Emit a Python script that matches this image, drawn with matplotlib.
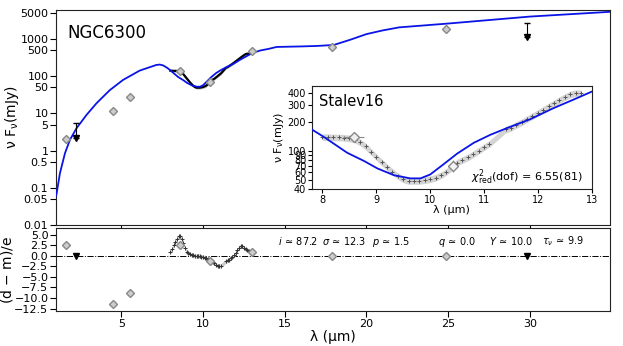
import matplotlib
matplotlib.use('Agg')
import matplotlib.pyplot as plt
import numpy as np

# photometry (wavelength um, nuFnu mJy)
phot_wl = [1.6, 4.5, 5.5, 8.6, 10.43, 13.0, 17.9, 24.9]
phot_fl = [2.0, 11.6, 28.0, 141.0, 71.0, 475.0, 620.0, 1820.0]
phot_err = [0.3, 2.0, 5.0, 15.0, 8.0, 40.0, 50.0, 150.0]
phot_res = [2.5, -11.5, -8.7, 2.6, -1.3, 1.0, 0.0, 0.0]

# upper limits
ul_wl = [2.22, 29.85]
ul_fl = [2.15, 1110.0]
ul_cap = [5.4, 2650.0]
ul_res = [0.0, 0.0]

# spectrum
spec_wl = [8.0, 8.1, 8.2, 8.3, 8.4, 8.5, 8.6, 8.7, 8.8, 8.9, 9.0, 9.1, 9.2, 9.3,
           9.4, 9.5, 9.6, 9.7, 9.8, 9.9, 10.0, 10.1, 10.2, 10.3, 10.4, 10.5,
           10.6, 10.7, 10.8, 10.9, 11.0, 11.1, 11.4, 11.5, 11.6, 11.7, 11.8,
           11.9, 12.0, 12.1, 12.2, 12.3, 12.4, 12.5, 12.6, 12.7, 12.8]
spec_fl = [140, 140, 139, 139, 138, 136, 132, 124, 112, 99, 87, 77, 68, 61,
           55, 51, 49, 49, 49, 50, 51, 53, 56, 61, 67, 76,
           81, 86, 93, 101, 110, 119, 168, 175, 188, 200, 215,
           232, 250, 270, 292, 315, 340, 365, 390, 402, 400]
spec_res = [0.8, 1.6, 2.5, 3.3, 4.0, 4.6, 4.7, 4.1, 3.0, 1.8, 1.0, 0.6, 0.4, 0.2,
            0.1, 0.0, -0.1, 0.0, -0.1, -0.2, -0.3, -0.4, -0.6, -0.8, -1.1, -1.3,
            -1.5, -1.8, -2.1, -2.4, -2.5, -2.3, -1.3, -1.1, -0.9, -0.6, -0.3,
            0.1, 0.7, 1.3, 1.9, 2.3, 2.3, 1.9, 1.6, 1.4, 1.2]
spec_relerr = 0.08
spec_res_err = 0.5

# best fit model
model_wl = [1.0, 1.04, 1.24, 1.55, 1.85, 2.26, 2.87, 3.48, 4.29, 5.1, 6.12, 7.14,
            7.35, 7.55, 7.81, 8.03, 8.46, 8.77, 9.02, 9.33, 9.63, 9.82, 10.0,
            10.25, 10.5, 10.81, 11.12, 11.43, 11.86, 12.29, 12.72, 13.0, 13.5,
            14.0, 14.5, 16.0, 17.0, 18.0, 19.0, 20.0, 21.0, 22.0, 25.0, 30.0, 35.0]
model_fl = [0.06, 0.071, 0.245, 0.85, 1.93, 4.0, 9.1, 18.7, 42, 79, 141, 200,
            205, 195, 167, 140, 96, 79, 66, 56, 52, 52, 57,
            73, 94, 122, 148, 174, 215, 280, 355, 416, 490,
            540, 610, 630, 650, 690, 950, 1350, 1700, 2050, 2600, 4000, 5400]

params = [r'$i\,{\simeq}\,87.2$', r'$\sigma\,{\simeq}\,12.3$', r'$p\,{\simeq}\,1.5$',
          r'$q\,{\simeq}\,0.0$', r'$Y\,{\simeq}\,10.0$', r'$\tau_\nu\,{\simeq}\,9.9$']

spec_fl_a = np.array(spec_fl, dtype=float)
spec_res_a = np.array(spec_res)

fig = plt.figure(figsize=(6.23, 3.46), dpi=100)
ax = fig.add_axes([0.0899, 0.350, 0.889, 0.621])
axr = fig.add_axes([0.0899, 0.101, 0.889, 0.240])
axi = fig.add_axes([0.5003, 0.4529, 0.4494, 0.2994])

diam = dict(marker='D', ms=4.5, mfc='#cccccc', mec='#888888', ls='none')

# --- main SED
ax.fill_between(spec_wl, spec_fl_a * (1 - spec_relerr), spec_fl_a * (1 + spec_relerr),
                color='#bbbbbb', lw=0, zorder=2)
ax.plot(spec_wl, spec_fl, color='k', lw=1.6, zorder=3)
ax.plot(model_wl, model_fl, color='#0a14e6', lw=1.3, zorder=4)
ax.errorbar(phot_wl, phot_fl, yerr=phot_err, zorder=5, ecolor='#888888',
            elinewidth=0.8, **diam)
for w, f, c in zip(ul_wl, ul_fl, ul_cap):
    ax.errorbar([w], [f], yerr=[[0], [c - f]], fmt='v', color='k', ms=4.5,
                capsize=2.5, elinewidth=0.8, zorder=5)
ax.set_yscale('log')
ax.set_xlim(1.0, 34.9)
ax.set_ylim(0.01, 6000)
ax.set_yticks([0.01, 0.05, 0.1, 0.5, 1, 5, 10, 50, 100, 500, 1000, 5000])
ax.set_yticklabels(['0.01', '0.05', '0.1', '0.5', '1', '5', '10', '50', '100',
                    '500', '1000', '5000'])
ax.minorticks_off()
ax.set_xticks([5, 10, 15, 20, 25, 30])
ax.set_xticklabels([])
ax.tick_params(labelsize=8, length=4, pad=1.5)
ax.set_ylabel(r'ν F$_\mathregular{\nu}$(mJy)', fontsize=10)
ax.yaxis.set_label_coords(-0.064, 0.5)
ax.text(0.02, 0.87, 'NGC6300', transform=ax.transAxes, fontsize=12)

# --- inset
axi.fill_between(spec_wl, spec_fl_a * (1 - spec_relerr), spec_fl_a * (1 + spec_relerr),
                 color='#d4d4d4', lw=0, zorder=2)
axi.plot(spec_wl, spec_fl, ls='none', marker='+', ms=3, mew=0.7, color='#555555', zorder=3)
axi.plot(model_wl, model_fl, color='#0a14e6', lw=1.3, zorder=4)
axi.errorbar([8.58], [140], xerr=[0.2], yerr=[12], marker='D', ms=5.5, mfc='#eeeeee',
             mec='#888888', ecolor='#888888', elinewidth=0.8, ls='none', zorder=5)
axi.errorbar([10.43], [70], yerr=[10], marker='D', ms=5.5, mfc='#f4f4f4',
             mec='#888888', ecolor='#888888', elinewidth=0.8, ls='none', zorder=5)
axi.set_yscale('log')
axi.set_xlim(7.8, 13)
axi.set_ylim(40, 480)
axi.set_yticks([40, 50, 60, 70, 80, 90, 100, 200, 300, 400])
axi.set_yticklabels(['40', '50', '60', '70', '80', '90', '100', '200', '300', '400'])
axi.minorticks_off()
axi.set_xticks([8, 9, 10, 11, 12, 13])
axi.tick_params(labelsize=7, length=3, pad=1)
axi.set_xlabel(r'λ (μm)', fontsize=8, labelpad=0)
axi.set_ylabel(r'ν F$_\mathregular{\nu}$(mJy)', fontsize=8, labelpad=1)
axi.text(0.025, 0.8, 'Stalev16', transform=axi.transAxes, fontsize=10.5)
axi.text(0.97, 0.08, r'$\chi^2_{\rm red}$(dof) = 6.55(81)', transform=axi.transAxes,
         fontsize=8, ha='right')

# --- residuals
axr.axhline(0, color='k', ls='-.', lw=0.7, zorder=1)
axr.fill_between(spec_wl, spec_res_a - spec_res_err, spec_res_a + spec_res_err,
                 color='#cccccc', lw=0, zorder=2)
axr.plot(spec_wl, spec_res, ls='none', marker='+', ms=3, mew=0.7, color='#333333', zorder=3)
axr.plot(phot_wl, phot_res, zorder=5, **diam)
axr.plot(ul_wl, ul_res, 'v', color='k', ms=4.5, zorder=5)
axr.set_xlim(1.0, 34.9)
axr.set_ylim(-13.1, 6.6)
axr.set_yticks(np.arange(-12.5, 5.1, 2.5))
axr.set_xticks([5, 10, 15, 20, 25, 30])
axr.tick_params(labelsize=8, length=4, pad=1.5)
axr.set_ylabel(r'(d $-$ m)/e', fontsize=10)
axr.yaxis.set_label_coords(-0.074, 0.5)
axr.set_xlabel(r'λ (μm)', fontsize=10, labelpad=1)
for xp, s in zip([0.401, 0.480, 0.570, 0.690, 0.782, 0.877], params):
    axr.text(xp, 0.8, s, transform=axr.transAxes, fontsize=7)

for a in (ax, axr, axi):
    for sp in a.spines.values():
        sp.set_color('#222222')

fig.savefig('out.png', dpi=100)
